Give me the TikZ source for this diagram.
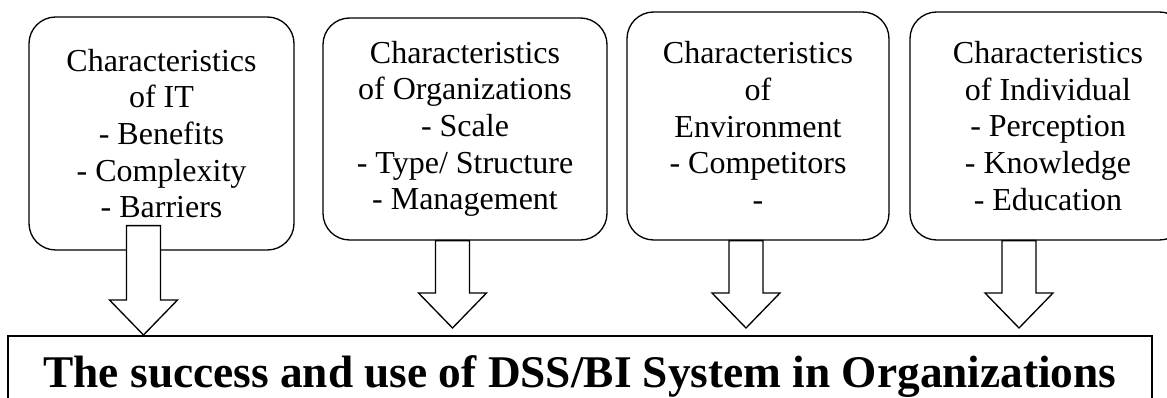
\documentclass[tikz,border=0pt]{standalone}
\usepackage{fontspec}
\setmainfont{Liberation Serif}
\usetikzlibrary{calc}

\tikzset{every picture/.style={line width=1pt}}
\tikzset{
  charbox/.style={draw, rounded corners=20pt, align=center, inner sep=0pt,
    font=\fontsize{24}{27.5}\selectfont},
  resultbox/.style={draw, inner sep=0pt, font=\fontsize{34}{40}\selectfont\bfseries},
  blockarrow/.style={draw, fill=white}
}

\begin{document}
\begin{tikzpicture}[x=0.75pt,y=0.75pt,yscale=-1,xscale=1]
\useasboundingbox (0,0) rectangle (1167,398);

%Rounded Rect: the four groups of characteristics
\node [charbox, minimum width=198.75pt, minimum height=174.75pt] (it) at (161.5,133.5)
  {Characteristics\\of IT\\- Benefits\\- Complexity\\- Barriers};
\node [charbox, minimum width=213pt, minimum height=166.5pt] (org) at (465,129)
  {Characteristics\\of Organizations\\- Scale\\- Type/ Structure\\- Management};
\node [charbox, minimum width=196.5pt, minimum height=171pt] (env) at (758,126)
  {Characteristics\\of\\Environment\\- Competitors\\-};
\node [charbox, minimum width=207pt, minimum height=171pt] (ind) at (1048,126)
  {Characteristics\\of Individual\\- Perception\\- Knowledge\\- Education};

%Rect: outcome
\node [resultbox, minimum width=858pt, minimum height=61.5pt] (dss) at (580,377)
  {The success and use of DSS/BI System in Organizations};

%Down Arrow: start and tip of each arrow
\coordinate (s1) at ($(it.south)+(-18,-25)$);
\coordinate (t1) at (143.5,335);
\coordinate (s2) at ($(org.south)+(-12.5,0)$);
\coordinate (t2) at (452.5,328);
\coordinate (s3) at ($(env.south)+(-12,0)$);
\coordinate (t3) at (746,328);
\coordinate (s4) at ($(ind.south)+(-29,0)$);
\coordinate (t4) at (1019,328);

\foreach \i in {1,...,4}{
\draw [blockarrow] ($(s\i)+(-17,0)$) -- ($(t\i)+(-17,-35)$) -- ($(t\i)+(-34,-35)$) -- (t\i) -- ($(t\i)+(34,-35)$) -- ($(t\i)+(17,-35)$) -- ($(s\i)+(17,0)$) -- cycle ;
}

\end{tikzpicture}
\end{document}
